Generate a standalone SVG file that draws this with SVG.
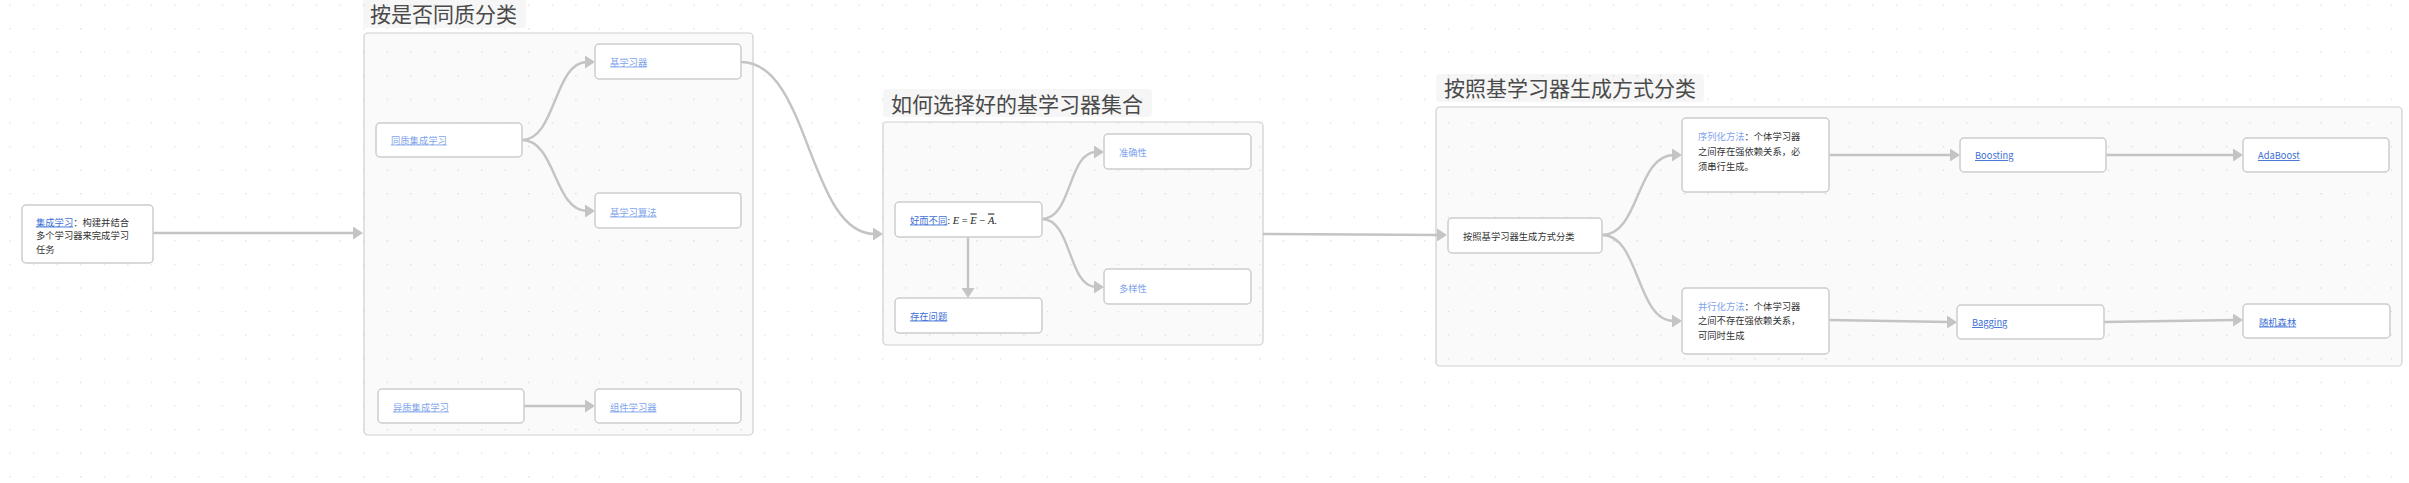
<svg xmlns="http://www.w3.org/2000/svg" width="2409" height="483" viewBox="0 0 2409 483">
<style>
  text { font-family: "Noto Sans CJK SC", "Noto Sans", sans-serif; font-size: 9.3px; fill: #333; }
  .title { font-size: 21px; fill: #4a4a4a; }
  .link { fill: #3d6fd6; text-decoration: underline; }
  .lite { fill: #7ea3ea; }
  .liteu { fill: #7ea3ea; text-decoration: underline; text-decoration-color: rgba(126,163,234,0.45); }
  .math { font-family: "Liberation Serif", serif; font-style: italic; font-size: 10.5px; fill: #222; }
  .mathr { font-family: "Liberation Serif", serif; font-size: 10.5px; fill: #222; }
  .ov { text-decoration: overline; }
  .cluster { fill: #000; fill-opacity: 0.018; stroke: #cfcfcf; stroke-width: 1.2; }
  .tbg { fill: #000; fill-opacity: 0.035; }
  .node rect { fill: #fff; stroke: #cdcdcd; stroke-width: 1.5; }
  .edge { fill: none; stroke: #c4c4c4; stroke-width: 2.4; marker-end: url(#arr); }
</style>
<defs>
  <pattern id="grid" patternUnits="userSpaceOnUse" x="9.4" y="4.4" width="23.58" height="23.58">
    <rect x="0" y="0" width="1.3" height="1.3" fill="#dcdcdc"/>
  </pattern>
  <marker id="arr" markerUnits="userSpaceOnUse" markerWidth="12" markerHeight="13" refX="2" refY="6.5" orient="auto">
    <path d="M0,0 L10,6.5 L0,13 z" fill="#c4c4c4"/>
  </marker>
</defs>
<rect width="2409" height="483" fill="#fff"/>
<rect width="2409" height="483" fill="url(#grid)"/>

<g id="cluster-homogeneity">
  <rect class="tbg" x="363" y="-2" width="163" height="30" rx="3"/>
  <text class="title" x="370" y="21.5">按是否同质分类</text>
  <rect class="cluster" x="364" y="33" width="389" height="402" rx="4"/>
</g>
<g id="cluster-select">
  <rect class="tbg" x="883" y="89" width="269" height="28" rx="3"/>
  <text class="title" x="891" y="111.5">如何选择好的基学习器集合</text>
  <rect class="cluster" x="883" y="122" width="380" height="223" rx="4"/>
</g>
<g id="cluster-generation">
  <rect class="tbg" x="1436" y="74" width="268" height="28" rx="3"/>
  <text class="title" x="1444" y="96">按照基学习器生成方式分类</text>
  <rect class="cluster" x="1436" y="107" width="966" height="259" rx="4"/>
</g>

<g id="connectors">
  <path class="edge" d="M153,233 L355,233"/>
  <path class="edge" d="M522,140 C556,140 554,62 587,62"/>
  <path class="edge" d="M522,140 C556,140 554,211 587,211"/>
  <path class="edge" d="M524,406 L587,406"/>
  <path class="edge" d="M741,62 C810,62 808,234 875,234"/>
  <path class="edge" d="M1042,219 C1072,219 1068,152 1096,152"/>
  <path class="edge" d="M1042,219 C1072,219 1068,287 1096,287"/>
  <path class="edge" d="M968,237 L968,290"/>
  <path class="edge" d="M1263,234 L1439,235"/>
  <path class="edge" d="M1602,235 C1640,235 1636,155 1674,155"/>
  <path class="edge" d="M1602,235 C1640,235 1636,321 1674,321"/>
  <path class="edge" d="M1829,155 L1952,155"/>
  <path class="edge" d="M1829,320 L1949,322"/>
  <path class="edge" d="M2106,155 L2235,155"/>
  <path class="edge" d="M2104,322 L2235,320"/>
</g>

<g id="n-ensemble" class="node">
  <rect x="22" y="205" width="131" height="58" rx="4"/>
  <text x="36" y="225.5"><tspan class="link">集成学习</tspan>：构建并结合</text>
  <text x="36" y="239">多个学习器来完成学习</text>
  <text x="36" y="253">任务</text>
</g>
<g id="n-homo" class="node">
  <rect x="376" y="123" width="146" height="34" rx="4"/>
  <text class="liteu" x="391" y="143.5">同质集成学习</text>
</g>
<g id="n-base-learner" class="node">
  <rect x="595" y="44" width="146" height="35" rx="4"/>
  <text class="liteu" x="610" y="65.5">基学习器</text>
</g>
<g id="n-base-algo" class="node">
  <rect x="595" y="193" width="146" height="35" rx="4"/>
  <text class="liteu" x="610" y="215.5">基学习算法</text>
</g>
<g id="n-hetero" class="node">
  <rect x="378" y="389" width="146" height="34" rx="4"/>
  <text class="liteu" x="393" y="410.5">异质集成学习</text>
</g>
<g id="n-component" class="node">
  <rect x="595" y="389" width="146" height="34" rx="4"/>
  <text class="liteu" x="610" y="410.5">组件学习器</text>
</g>

<g id="n-good-diff" class="node">
  <rect x="895" y="202" width="147" height="35" rx="4"/>
  <text x="910" y="223.5"><tspan class="link">好而不同</tspan><tspan class="mathr">: </tspan><tspan class="math">E</tspan><tspan class="mathr"> = </tspan><tspan class="math ov">E</tspan><tspan class="mathr"> − </tspan><tspan class="math ov">A</tspan><tspan class="mathr">.</tspan></text>
</g>
<g id="n-problem" class="node">
  <rect x="895" y="298" width="147" height="35" rx="4"/>
  <text class="link" x="910" y="319.5">存在问题</text>
</g>
<g id="n-accuracy" class="node">
  <rect x="1104" y="134" width="147" height="35" rx="4"/>
  <text class="lite" x="1119" y="155.5">准确性</text>
</g>
<g id="n-diversity" class="node">
  <rect x="1104" y="269" width="147" height="35" rx="4"/>
  <text class="lite" x="1119" y="291.5">多样性</text>
</g>

<g id="n-gen" class="node">
  <rect x="1448" y="218" width="154" height="35" rx="4"/>
  <text x="1463" y="239.5">按照基学习器生成方式分类</text>
</g>
<g id="n-sequential" class="node">
  <rect x="1682" y="118" width="147" height="74" rx="4"/>
  <text x="1698" y="139.5"><tspan class="lite">序列化方法</tspan>：个体学习器</text>
  <text x="1698" y="154.5">之间存在强依赖关系，必</text>
  <text x="1698" y="169.5">须串行生成。</text>
</g>
<g id="n-parallel" class="node">
  <rect x="1682" y="288" width="147" height="66" rx="4"/>
  <text x="1698" y="309.5"><tspan class="lite">并行化方法</tspan>：个体学习器</text>
  <text x="1698" y="324">之间不存在强依赖关系，</text>
  <text x="1698" y="338.5">可同时生成</text>
</g>
<g id="n-boosting" class="node">
  <rect x="1960" y="138" width="146" height="34" rx="4"/>
  <text class="link" x="1975" y="159">Boosting</text>
</g>
<g id="n-adaboost" class="node">
  <rect x="2243" y="138" width="146" height="34" rx="4"/>
  <text class="link" x="2258" y="159">AdaBoost</text>
</g>
<g id="n-bagging" class="node">
  <rect x="1957" y="305" width="147" height="34" rx="4"/>
  <text class="link" x="1972" y="326">Bagging</text>
</g>
<g id="n-rf" class="node">
  <rect x="2243" y="304" width="147" height="34" rx="4"/>
  <text class="link" x="2259" y="325.5">随机森林</text>
</g>
</svg>
